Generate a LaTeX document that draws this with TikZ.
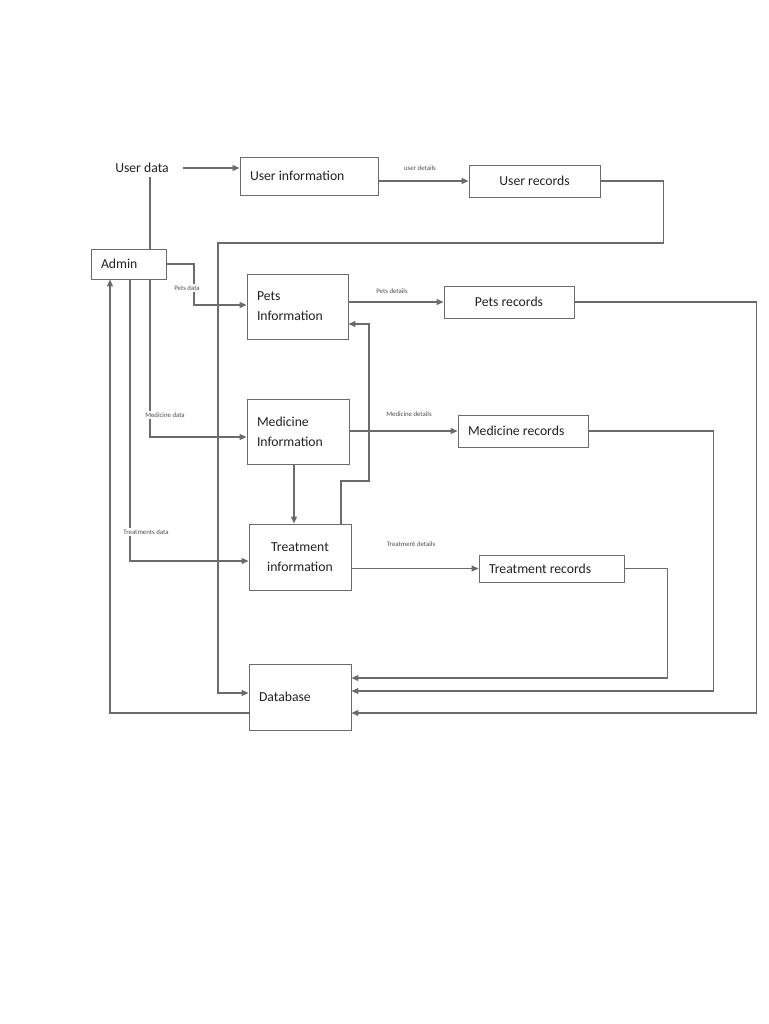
\documentclass[tikz,border=0pt]{standalone}
\usepackage{fontspec}
\setmainfont{Carlito}
\usetikzlibrary{arrows.meta}
\definecolor{linec}{HTML}{6B6B6B}
\definecolor{txt}{HTML}{222222}
\newcommand{\boxfont}{\fontsize{13.7}{20}\selectfont}
\newcommand{\lblfont}{\fontsize{6.8}{8}\selectfont}
\tikzset{
  box/.style={draw=linec, line width=0.9pt, inner ysep=0pt, font=\boxfont, text=txt},
  lbox/.style={box, align=flush left, inner xsep=10pt, text width=#1},
  cbox/.style={box, align=flush center, inner xsep=0pt, minimum width=#1},
  lbl/.style={font=\lblfont, text=txt!80, inner sep=1.5pt},
  line/.style={draw=linec, line width=1.2pt},
  arr/.style={line, -{Triangle[length=7pt,width=6pt]}},
}
\begin{document}
\begin{tikzpicture}[x=1pt,y=-1pt]
\useasboundingbox[fill=white] (0,0) rectangle (768,1024);
% nodes
\node[font=\boxfont, text=txt, inner sep=0pt] (ud) at (142,168) {User data};
\node[lbox=118pt, minimum height=38pt] (ui) at (309,176) {User information};
\node[cbox=131pt, minimum height=32pt] (ur) at (534.5,181) {User records};
\node[lbox=55pt, minimum height=30pt] (admin) at (128.5,264) {Admin};
\node[lbox=81pt, minimum height=65pt] (pi) at (297.5,306.5) {Pets\\Information};
\node[cbox=130pt, minimum height=32pt] (pr) at (509,302) {Pets records};
\node[lbox=82pt, minimum height=65pt] (mi) at (298,431.5) {Medicine\\Information};
\node[lbox=110pt, minimum height=32pt] (mr) at (523,431) {Medicine records};
\node[cbox=102pt, minimum height=66pt] (ti) at (300,557) {Treatment\\information};
\node[lbox=125pt, minimum height=27pt] (tr) at (551.5,568.5) {Treatment records};
\node[lbox=82pt, minimum height=66pt] (db) at (300,697) {Database};
% labels
\node[lbl] (udl) at (420,168) {user details};
\node[lbl] (pd) at (187,288) {Pets data};
\node[lbl] (pdl) at (392,291) {Pets details};
\node[lbl] (md) at (165,415) {Medicine data};
\node[lbl] (mdl) at (409,414) {Medicine details};
\node[lbl] (td) at (146,532) {Treatments data};
\node[lbl] (tdl) at (411,544) {Treatment details};
% connectors
\draw[arr] ([xshift=14pt]ud.east) -- (ui.west |- ud.east);
\draw[line] ([xshift=8pt,yshift=-4pt]ud.south) -- ([xshift=8pt]ud.south |- admin.north);
\draw[arr] (ur.west -| ui.east) -- (ur.west);
\draw[line, line width=1.8pt] (ur.east) -- ++(63,0) -- ++(0,62) -- (230,243);
\draw[arr] (230,243) -- (218,243) |- ([yshift=4pt]db.west);
% admin outputs
\draw[line] (admin.east) -| ([xshift=7pt]pd.north);
\draw[arr] ([xshift=7pt]pd.south) |- ([yshift=1.5pt]pi.west);
\draw[line] ([xshift=21.5pt]admin.south) -- ([xshift=21.5pt]admin.south |- md.north);
\draw[arr] ([xshift=21.5pt]admin.south |- md.south) |- ([yshift=-5.5pt]mi.west);
\draw[line] ([xshift=1.5pt]admin.south) -- ([xshift=1.5pt]admin.south |- td.north);
\draw[arr] ([xshift=1.5pt]admin.south |- td.south) |- ([yshift=-4pt]ti.west);
\draw[arr] ([yshift=-16pt]db.west) -| ([xshift=-18.5pt]admin.south);
% information to records
\draw[arr] (pi.east |- pr.west) -- (pr.west);
\draw[arr] (mi.east |- mr.west) -- (mr.west);
\draw[arr] (ti.east |- tr.west) -- (tr.west);
\draw[arr] ([xshift=-4pt]mi.south) -- ([xshift=-4pt]mi.south |- ti.north);
\draw[arr] ([xshift=41pt]ti.north) |- (369,481) |- ([yshift=-17.5pt]pi.east);
% records to database
\draw[arr] (tr.east) -- ++(43,0) |- ([yshift=19pt]db.east);
\draw[arr] (mr.east) -- ++(125,0) |- ([yshift=6pt]db.east);
\draw[arr] (pr.east) -- ++(182,0) |- ([yshift=-16pt]db.east);
\end{tikzpicture}
\end{document}
